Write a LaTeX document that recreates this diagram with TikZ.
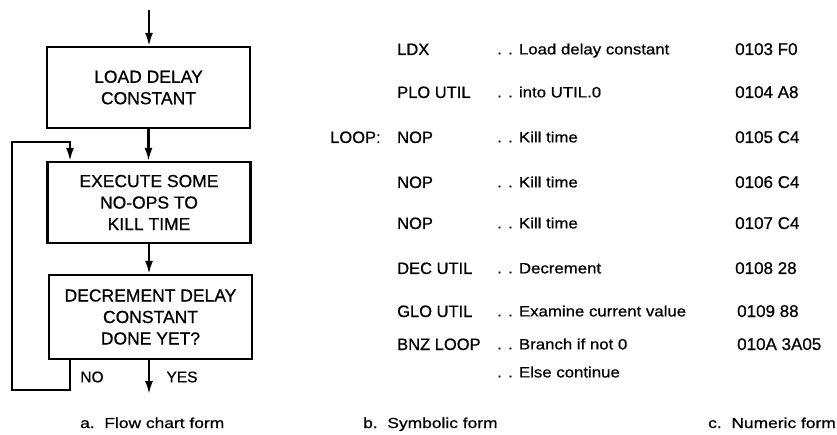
\documentclass[tikz,border=0pt]{standalone}
\usepackage{fontspec}
\setmainfont[FakeBold=0.7]{Liberation Sans}
\newfontfamily\capfont[FakeStretch=1.2,FakeBold=0.7]{Liberation Sans}
\newfontfamily\cmtfont[FakeStretch=1.12,FakeBold=0.7]{Liberation Sans}
\usetikzlibrary{arrows.meta}
\begin{document}
\begin{tikzpicture}[x=1pt,y=-1pt,
  box/.style={draw,line width=2.2pt,inner sep=0pt,align=center,minimum width=203pt,font=\fontsize{17.5}{21.5}\selectfont},
  flow/.style={line width=2.2pt,-{Latex[length=13pt,width=8pt]}},
  mnem/.style={anchor=base west,inner sep=0pt,font=\fontsize{16.5}{18}\selectfont},
  cmt/.style={anchor=base west,inner sep=0pt,font=\cmtfont\fontsize{15}{17}\selectfont},
  num/.style={anchor=base west,inner sep=0pt,font=\fontsize{17}{18}\selectfont},
  capt/.style={anchor=base west,inner sep=0pt,font=\capfont\fontsize{14.5}{16}\selectfont},
  lbl/.style={inner sep=0pt,font=\fontsize{15.5}{16}\selectfont}]
\useasboundingbox (0,0) rectangle (837,435);
% flow chart
\node[box,minimum height=81pt] (b1) at (148.5,87.5) {LOAD DELAY\\CONSTANT};
\node[box,minimum height=81pt] (b2) at (149,202.5) {EXECUTE SOME\\NO-OPS TO\\KILL TIME};
\node[box,minimum height=84pt] (b3) at (150.5,317) {DECREMENT DELAY\\CONSTANT\\DONE YET?};
\coordinate (start) at (149,10);
\coordinate (lp1) at (70,390);
\coordinate (lp2) at (12,390);
\coordinate (lp3) at (12,142);
\coordinate (lp4) at (70,142);
\coordinate (yes) at (149,394);
\draw[flow] (start) -- (start |- b1.north);
\draw[flow] (b1.south) -- (b1.south |- b2.north);
\draw[flow] (b2.south) -- (b2.south |- b3.north);
\draw[flow] (b3.south -| lp1) -- (lp1) -- (lp2) -- (lp3) -- (lp4) -- (lp4 |- b2.north);
\draw[flow] (b3.south -| yes) -- (yes);
\node[lbl] (no) at (92,377) {NO};
\node[lbl] (yeslbl) at (182,377) {YES};
% symbolic form
\node[mnem] (loop) at (330,143) {LOOP:};
\node[mnem] (m1) at (397,55) {LDX};
\node[mnem] (m2) at (397,98) {PLO UTIL};
\node[mnem] (m3) at (397,143) {NOP};
\node[mnem] (m4) at (397,188) {NOP};
\node[mnem] (m5) at (397,229) {NOP};
\node[mnem] (m6) at (397,274) {DEC UTIL};
\node[mnem] (m7) at (397,317) {GLO UTIL};
\node[mnem] (m8) at (397,350) {BNZ LOOP};
\node[cmt] (c1) at (497,54.4) {. . Load delay constant};
\node[cmt] (c2) at (497,97.4) {. . into UTIL.0};
\node[cmt] (c3) at (497,142.4) {. . Kill time};
\node[cmt] (c4) at (497,187.4) {. . Kill time};
\node[cmt] (c5) at (497,228.4) {. . Kill time};
\node[cmt] (c6) at (497,273.4) {. . Decrement};
\node[cmt] (c7) at (497,316.4) {. . Examine current value};
\node[cmt] (c8) at (497,349.4) {. . Branch if not 0};
\node[cmt] (c9) at (497,377.4) {. . Else continue};
% numeric form
\node[num] (n1) at (735,55) {0103 F0};
\node[num] (n2) at (735,98) {0104 A8};
\node[num] (n3) at (735,143) {0105 C4};
\node[num] (n4) at (735,188) {0106 C4};
\node[num] (n5) at (735,229) {0107 C4};
\node[num] (n6) at (735,274) {0108 28};
\node[num] (n7) at (737,317) {0109 88};
\node[num] (n8) at (737,350) {010A 3A05};
% captions
\node[capt] (ca) at (80,428) {a.\ \ Flow chart form};
\node[capt] (cb) at (363,428) {b.\ \ Symbolic form};
\node[capt] (cc) at (708,428) {c.\ \ Numeric form};
\end{tikzpicture}
\end{document}
